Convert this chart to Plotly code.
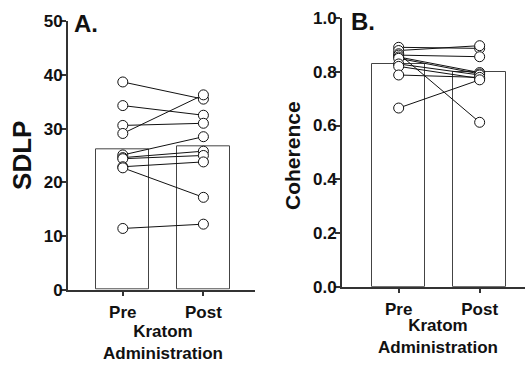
import plotly.graph_objects as go

categories = ["Pre", "Post"]

# Panel A: SDLP
sdlp_pre = [38.7, 34.3, 30.6, 29.1, 25.1, 24.6, 24.4, 22.9, 22.7, 11.4]
sdlp_post = [35.5, 32.5, 31.0, 36.3, 28.5, 25.8, 25.0, 23.8, 17.2, 12.2]
sdlp_mean = [26.2, 26.7]

# Panel B: Coherence
coh_pre = [0.891, 0.879, 0.867, 0.862, 0.855, 0.850, 0.829, 0.820, 0.788, 0.665]
coh_post = [0.887, 0.897, 0.612, 0.856, 0.797, 0.792, 0.788, 0.775, 0.779, 0.770]
coh_mean = [0.830, 0.800]

W, H = 525, 366
FONT = "Liberation Sans, Arial, sans-serif"
AXC = "#333333"

fig = go.Figure()


def add_panel(pre, post, mean, xa, ya):
    fig.add_trace(go.Bar(
        x=categories, y=mean, width=0.66,
        marker=dict(color="white", line=dict(color="#444444", width=1)),
        xaxis=xa, yaxis=ya, showlegend=False, hoverinfo="skip"))
    lx, ly = [], []
    for a, b in zip(pre, post):
        lx += [categories[0], categories[1], None]
        ly += [a, b, None]
    fig.add_trace(go.Scatter(
        x=lx, y=ly, mode="lines", line=dict(color="#111111", width=1),
        xaxis=xa, yaxis=ya, showlegend=False, hoverinfo="skip"))
    fig.add_trace(go.Scatter(
        x=[categories[0]] * len(pre) + [categories[1]] * len(post),
        y=list(pre) + list(post), mode="markers",
        marker=dict(symbol="circle", size=10, color="white",
                    line=dict(color="#111111", width=1)),
        xaxis=xa, yaxis=ya, showlegend=False))


add_panel(sdlp_pre, sdlp_post, sdlp_mean, "x", "y")
add_panel(coh_pre, coh_post, coh_mean, "x2", "y2")

xcommon = dict(type="category", showline=True, linecolor=AXC, linewidth=2,
               ticks="outside", ticklen=4, tickwidth=1.5, tickcolor=AXC,
               showgrid=False, zeroline=False, ticklabelstandoff=2,
               tickfont=dict(family=FONT, size=17, color="#111111"))
ycommon = dict(showline=True, linecolor=AXC, linewidth=2,
               ticks="outside", ticklen=5, tickwidth=1.5, tickcolor=AXC,
               showgrid=False, zeroline=False, ticklabelstandoff=-5,
               tickfont=dict(family=FONT, size=17, color="#111111"))

fig.update_layout(
    width=W, height=H,
    margin=dict(l=0, r=0, t=0, b=0),
    plot_bgcolor="white", paper_bgcolor="white",
    font=dict(family=FONT, color="#111111"),
    bargap=0,
    xaxis=dict(domain=[68 / W, 255 / W], range=[-0.68, 1.64], anchor="y", **xcommon),
    yaxis=dict(domain=[(H - 296) / H, (H - 13) / H], range=[0, 50], dtick=10,
               anchor="x", **ycommon),
    xaxis2=dict(domain=[342 / W, 1.0], range=[-0.70, 1.56], anchor="y2", **xcommon),
    yaxis2=dict(domain=[(H - 293) / H, (H - 9.5) / H], range=[0, 1.0], dtick=0.2,
                tickformat=".1f", anchor="x2", **ycommon),
)

ann_font = dict(family=FONT, size=21, color="#111111")
annotations = [
    dict(text="<b>A.</b>", x=72 / W, y=1 - 15 / H, xanchor="left", yanchor="middle",
         font=dict(family=FONT, size=24, color="#111111")),
    dict(text="<b>B.</b>", x=349 / W, y=1 - 13 / H, xanchor="left", yanchor="middle",
         font=dict(family=FONT, size=24, color="#111111")),
    dict(text="<b>SDLP</b>", x=22 / W, y=1 - 155 / H, xanchor="center", yanchor="middle",
         textangle=-90, font=dict(family=FONT, size=26, color="#111111")),
    dict(text="<b>Coherence</b>", x=293 / W, y=1 - 155 / H, xanchor="center",
         yanchor="middle", textangle=-90, font=ann_font),
    dict(text="<b>Kratom<br>Administration</b>", x=163 / W, y=1 - 352 / H,
         xanchor="center", yanchor="middle",
         font=dict(family=FONT, size=17, color="#111111")),
    dict(text="<b>Kratom<br>Administration</b>", x=438 / W, y=1 - 345 / H,
         xanchor="center", yanchor="middle",
         font=dict(family=FONT, size=17, color="#111111")),
]
for a in annotations:
    a.update(xref="paper", yref="paper", showarrow=False)
fig.update_layout(annotations=annotations)

fig.update_xaxes(tickprefix="<b>", ticksuffix="</b>")
fig.update_yaxes(tickprefix="<b>", ticksuffix="</b>")

fig.write_html("out.html")
